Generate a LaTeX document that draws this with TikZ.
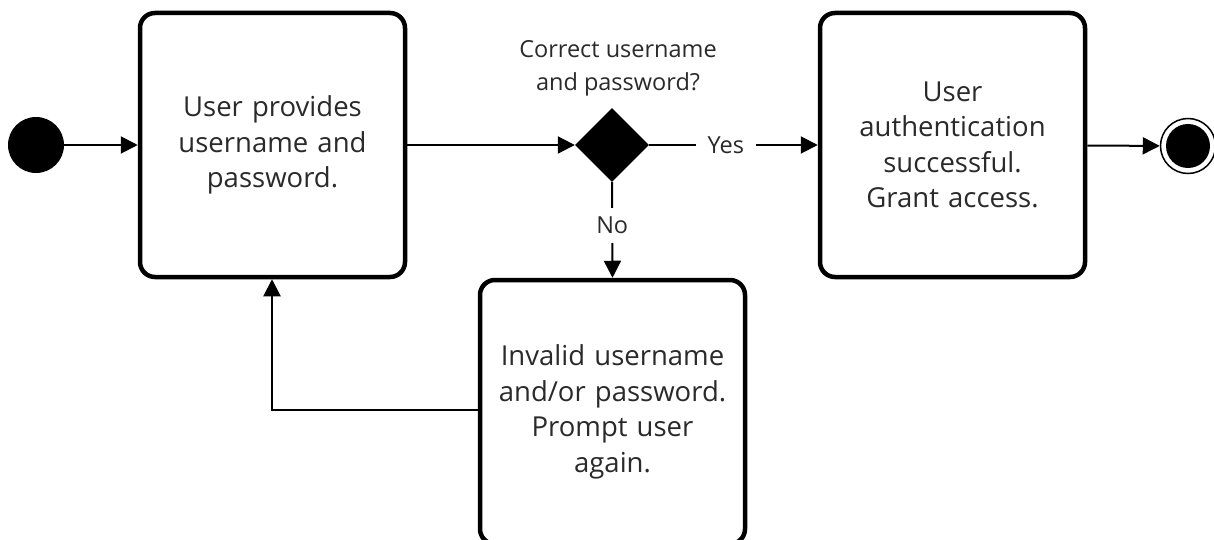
\documentclass[tikz,border=0pt]{standalone}
\usepackage{fontspec}
\setmainfont{Open Sans}
\usetikzlibrary{arrows.meta,shapes.geometric}
\definecolor{ink}{HTML}{2A2A2A}
\tikzset{
  state/.style={draw=black, line width=4.5pt, rounded corners=15pt, fill=white,
    minimum width=265pt, minimum height=264pt, inner sep=0pt,
    align=center, text width=255pt, text=ink,
    font=\fontsize{27.5}{35.5}\selectfont},
  flow/.style={line width=2pt, -{Triangle[length=17pt,width=17pt]}},
  decision/.style={diamond, fill=black, draw=none, minimum width=74pt,
    minimum height=74pt, inner sep=0pt},
  lbl/.style={text=ink, font=\fontsize{23.5}{33}\selectfont, align=center},
  gap/.style={fill=white, text=ink, font=\fontsize{23.5}{26}\selectfont, inner sep=12pt}
}
\begin{document}
\begin{tikzpicture}[x=1pt, y=-1pt]
  \useasboundingbox (0,0) rectangle (1214,540);
  \clip (0,0) rectangle (1214,540);

  % start and end states
  \node[circle, fill=black, minimum size=56pt, inner sep=0pt] (start) at (36,145) {};
  \node[circle, draw=black, line width=1.5pt, minimum size=55pt, inner sep=0pt] (finish) at (1188,146) {};
  \node[circle, fill=black, minimum size=44pt, inner sep=0pt] (finishdot) at (1188,146) {};

  % activities
  \node[state] (provide) at (272.5,145) {User provides\\username and\\password.};
  \node[state] (grant) at (952.5,145) {User\\authentication\\successful.\\Grant access.};
  \node[state] (retry) at (612.5,412) {Invalid username\\and/or password.\\Prompt user\\again.};

  % decision
  \node[decision] (check) at (612,145) {};
  \node[lbl] (question) at (618,68) {Correct username\\and password?};

  % transitions
  \draw[flow] (start) -- (provide);
  \draw[flow] (provide) -- (check);
  \draw[flow] (check.east) -- node[gap, pos=0.455] (yes) {Yes} (grant);
  \draw[flow] (check.south) -- node[gap, pos=0.45, inner xsep=4pt, inner ysep=9pt] (no) {No} (retry.north);
  \draw[flow] (grant) -- (finish);
  \draw[flow] (retry.west |- 0,410) -| (provide.south -| 272,0);
\end{tikzpicture}
\end{document}
